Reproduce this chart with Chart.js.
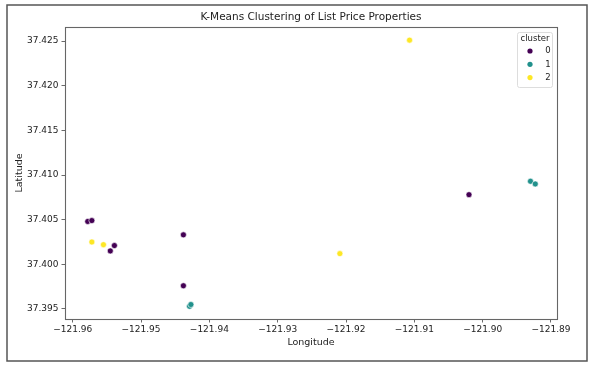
<!DOCTYPE html>
<html>
<head>
<meta charset="utf-8">
<script src="https://cdn.jsdelivr.net/npm/chart.js@4.4.0/dist/chart.umd.min.js"></script>
<style>
  html, body { margin: 0; padding: 0; background: #fff; }
  #wrap { width: 597px; height: 367px; position: relative; }
</style>
</head>
<body>
<div id="wrap"><canvas id="c" width="597" height="367"></canvas></div>
<script>
// ---- data ----
const titleText = "K-Means Clustering of List Price Properties";
const xLabel = "Longitude";
const yLabel = "Latitude";
const legendTitle = "cluster";
const clusterNames = ["0", "1", "2"];
const clusterColors = ["#440154", "#21918c", "#fde725"];

const cluster0Lon = [-121.9578, -121.9572, -121.9545, -121.9539, -121.9438, -121.9438, -121.9020];
const cluster0Lat = [37.4048, 37.4049, 37.4015, 37.4021, 37.4033, 37.3976, 37.4078];
const cluster1Lon = [-121.9429, -121.9427, -121.8930, -121.8923];
const cluster1Lat = [37.3953, 37.3955, 37.4093, 37.4090];
const cluster2Lon = [-121.9572, -121.9555, -121.9209, -121.9107];
const cluster2Lat = [37.4025, 37.4022, 37.4012, 37.4251];

const xTicks = [-121.96, -121.95, -121.94, -121.93, -121.92, -121.91, -121.90, -121.89];
const yTicks = [37.395, 37.400, 37.405, 37.410, 37.415, 37.420, 37.425];
const xRange = [-121.96113, -121.88912];
const yRange = [37.39388, 37.42657];

// ---- build ----
const lonSets = [cluster0Lon, cluster1Lon, cluster2Lon];
const latSets = [cluster0Lat, cluster1Lat, cluster2Lat];
const datasets = clusterNames.map((n, i) => ({
  label: n,
  data: lonSets[i].map((x, j) => ({ x: x, y: latSets[i][j] })),
  backgroundColor: clusterColors[i],
  borderColor: "#ffffff",
  borderWidth: 0.6,
  pointRadius: 3,
  pointHoverRadius: 3
}));

const FONT = "'DejaVu Sans', sans-serif";
const minus = v => String(v).replace("-", "\u2212");

const decor = {
  id: "decor",
  beforeDraw(chart) {
    const ctx = chart.ctx;
    ctx.save();
    ctx.fillStyle = "#fff";
    ctx.fillRect(0, 0, chart.width, chart.height);
    ctx.strokeStyle = "#555";
    ctx.lineWidth = 1.5;
    ctx.strokeRect(7, 5, 580, 356);
    ctx.restore();
  },
  afterDraw(chart) {
    const ctx = chart.ctx;
    const a = chart.chartArea;
    ctx.save();
    // spines
    ctx.strokeStyle = "#666";
    ctx.lineWidth = 1.1;
    ctx.strokeRect(a.left + 0.5, a.top + 0.5, a.right - a.left, a.bottom - a.top);
    // title
    ctx.fillStyle = "#222";
    ctx.textAlign = "center";
    ctx.textBaseline = "middle";
    ctx.font = "10.5px " + FONT;
    ctx.fillText(titleText, (a.left + a.right) / 2, 17);
    // axis labels
    ctx.font = "9.5px " + FONT;
    ctx.fillText(xLabel, (a.left + a.right) / 2, 343);
    ctx.save();
    ctx.translate(20, (a.top + a.bottom) / 2);
    ctx.rotate(-Math.PI / 2);
    ctx.fillText(yLabel, 0, 0);
    ctx.restore();
    // legend
    const lx = 517, ly = 32, lw = 35, lh = 55;
    ctx.fillStyle = "rgba(255,255,255,0.8)";
    ctx.strokeStyle = "#ddd";
    ctx.lineWidth = 1;
    ctx.beginPath();
    ctx.roundRect(lx + 0.5, ly + 0.5, lw, lh, 2);
    ctx.fill();
    ctx.stroke();
    ctx.fillStyle = "#222";
    ctx.font = "8.5px " + FONT;
    ctx.fillText(legendTitle, lx + lw / 2 + 0.5, 39);
    clusterNames.forEach((n, i) => {
      const y = 51 + i * 13.3;
      ctx.beginPath();
      ctx.arc(530, y, 2.6, 0, Math.PI * 2);
      ctx.fillStyle = clusterColors[i];
      ctx.fill();
      ctx.fillStyle = "#222";
      ctx.fillText(n, 548, y);
    });
    ctx.restore();
  }
};

new Chart(document.getElementById("c"), {
  type: "scatter",
  data: { datasets: datasets },
  options: {
    responsive: false,
    animation: false,
    events: [],
    layout: { padding: { left: 0, right: 40, top: 27, bottom: 0 } },
    plugins: { legend: { display: false }, title: { display: false }, tooltip: { enabled: false } },
    scales: {
      x: {
        type: "linear",
        min: xRange[0], max: xRange[1],
        afterFit: s => { s.height = 48; },
        afterBuildTicks: s => { s.ticks = xTicks.map(v => ({ value: v })); },
        grid: { drawOnChartArea: false, drawTicks: true, tickLength: 3.5, color: "#444", tickWidth: 0.8 },
        border: { display: false },
        ticks: {
          font: { family: FONT, size: 9 }, color: "#222", padding: 2,
          maxRotation: 0, autoSkip: false,
          callback: v => minus(v.toFixed(2))
        }
      },
      y: {
        type: "linear",
        min: yRange[0], max: yRange[1],
        afterFit: s => { s.width = 65; },
        afterBuildTicks: s => { s.ticks = yTicks.map(v => ({ value: v })); },
        grid: { drawOnChartArea: false, drawTicks: true, tickLength: 3.5, color: "#444", tickWidth: 0.8 },
        border: { display: false },
        ticks: {
          font: { family: FONT, size: 9 }, color: "#222", padding: 3,
          autoSkip: false,
          callback: v => v.toFixed(3)
        }
      }
    }
  },
  plugins: [decor]
});
</script>
</body>
</html>
